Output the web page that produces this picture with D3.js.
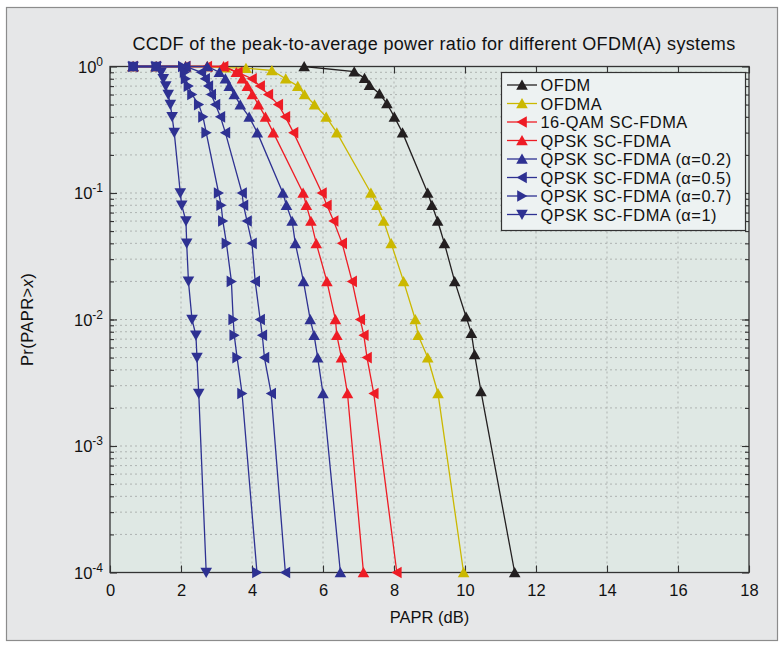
<!DOCTYPE html>
<html>
<head>
<meta charset="utf-8">
<script src="https://cdnjs.cloudflare.com/ajax/libs/d3/7.8.5/d3.min.js"></script>
<style>
body { margin: 0; background: #fff; }
text { font-family: "Liberation Sans", Arial, sans-serif; fill: #111; }
</style>
</head>
<body>
<div id="chart-area"></div>
<script>
/*
*    PAPR CCDF chart
*/

// ---- data ----
var ofdmPapr = [5.47, 6.88, 7.17, 7.31, 7.59, 7.80, 8.01, 8.24, 8.95, 9.07, 9.23, 9.42, 9.71, 10.03, 10.18, 10.27, 10.45, 11.40]
var ofdmProb = [1, 0.91, 0.81, 0.71, 0.61, 0.51, 0.40, 0.30, 0.10, 0.08, 0.06, 0.04, 0.02, 0.0105, 0.0078, 0.0053, 0.0027, 0.0001]

var ofdmaPapr = [0.65, 1.3, 2.13, 2.74, 3.25, 3.83, 4.56, 4.95, 5.29, 5.48, 5.76, 6.09, 6.39, 7.35, 7.52, 7.71, 7.92, 8.27, 8.60, 8.68, 8.95, 9.24, 9.96]
var ofdmaProb = [1, 1, 1, 1, 0.98, 0.97, 0.93, 0.80, 0.70, 0.60, 0.50, 0.40, 0.30, 0.10, 0.08, 0.06, 0.04, 0.02, 0.01, 0.0075, 0.005, 0.0026, 0.0001]

var qam16Papr = [0.65, 1.3, 2.13, 2.74, 3.2, 3.6, 4.0, 4.23, 4.46, 4.74, 4.94, 5.17, 5.97, 6.11, 6.30, 6.54, 6.82, 7.05, 7.15, 7.24, 7.43, 8.08]
var qam16Prob = [1, 1, 1, 1, 1, 0.9, 0.8, 0.7, 0.6, 0.5, 0.4, 0.3, 0.1, 0.08, 0.06, 0.04, 0.02, 0.01, 0.0075, 0.005, 0.0026, 0.0001]

var qpskPapr = [0.65, 1.3, 2.13, 2.74, 3.2, 3.56, 3.73, 3.87, 4.01, 4.18, 4.38, 4.60, 5.44, 5.53, 5.66, 5.81, 6.11, 6.35, 6.39, 6.52, 6.69, 7.14]
var qpskProb = [1, 1, 1, 1, 1, 0.9, 0.8, 0.7, 0.6, 0.5, 0.4, 0.3, 0.1, 0.08, 0.06, 0.04, 0.02, 0.01, 0.0075, 0.005, 0.0026, 0.0001]

var a02Papr = [0.65, 1.3, 2.13, 2.74, 3.08, 3.25, 3.36, 3.50, 3.67, 3.92, 4.15, 4.87, 4.97, 5.13, 5.22, 5.45, 5.64, 5.75, 5.85, 6.00, 6.49]
var a02Prob = [1, 1, 1, 1, 0.9, 0.8, 0.7, 0.6, 0.5, 0.4, 0.3, 0.1, 0.08, 0.06, 0.04, 0.02, 0.01, 0.0075, 0.005, 0.0026, 0.0001]

var a05Papr = [0.65, 1.3, 2.13, 2.57, 2.68, 2.77, 2.85, 2.97, 3.11, 3.25, 3.72, 3.76, 3.86, 4.00, 4.09, 4.23, 4.29, 4.35, 4.54, 4.94]
var a05Prob = [1, 1, 1, 0.9, 0.8, 0.7, 0.6, 0.5, 0.4, 0.3, 0.1, 0.08, 0.06, 0.04, 0.02, 0.01, 0.0075, 0.005, 0.0026, 0.0001]

var a07Papr = [0.65, 1.3, 2.05, 2.10, 2.13, 2.21, 2.31, 2.50, 2.62, 2.71, 3.06, 3.13, 3.18, 3.28, 3.42, 3.47, 3.50, 3.58, 3.72, 4.14]
var a07Prob = [1, 1, 1, 0.9, 0.8, 0.7, 0.6, 0.5, 0.4, 0.3, 0.1, 0.08, 0.06, 0.04, 0.02, 0.01, 0.0075, 0.005, 0.0026, 0.0001]

var a1Papr = [0.65, 1.3, 1.44, 1.50, 1.57, 1.64, 1.70, 1.75, 1.81, 1.98, 2.02, 2.14, 2.16, 2.21, 2.31, 2.42, 2.45, 2.50, 2.71]
var a1Prob = [1, 1, 0.9, 0.8, 0.7, 0.6, 0.5, 0.4, 0.3, 0.1, 0.08, 0.06, 0.04, 0.02, 0.01, 0.0075, 0.005, 0.0026, 0.0001]

var seriesNames = ["OFDM", "OFDMA", "16-QAM SC-FDMA", "QPSK SC-FDMA",
	"QPSK SC-FDMA (\u03b1=0.2)", "QPSK SC-FDMA (\u03b1=0.5)", "QPSK SC-FDMA (\u03b1=0.7)", "QPSK SC-FDMA (\u03b1=1)"]
var xTicks = [0, 2, 4, 6, 8, 10, 12, 14, 16, 18]
var yExponents = [0, -1, -2, -3, -4]

// ---- layout ----
var W = 784, H = 648
var margin = {top: 66.5, left: 110}
var width = 639
var height = 506

var svg = d3.select("#chart-area").append("svg")
.attr("width", W)
.attr("height", H)

svg.append("rect")
.attr("x", 6.5).attr("y", 7.5)
.attr("width", 771).attr("height", 633)
.attr("fill", "#e6e7e8")
.attr("stroke", "#8c8c8c")
.attr("stroke-width", 1.2)

var g = svg.append("g")
.attr("transform", "translate(" + margin.left + ", " + margin.top + ")")

var x = d3.scaleLinear()
.domain([0, 18])
.range([0, width])

var y = d3.scaleLog()
.domain([1e-4, 1])
.range([height, 0])

g.append("rect")
.attr("width", width).attr("height", height)
.attr("fill", "#dfe8e4")

// grid
var minorY = []
for (var e = -4; e < 0; e++) {
	for (var m = 1; m < 10; m++) {
		if (!(m == 1 && e == -4)) minorY.push(m * Math.pow(10, e))
	}
}

g.append("g").selectAll("line")
.data(xTicks.slice(1, -1))
.enter().append("line")
.attr("x1", d => x(d)).attr("x2", d => x(d))
.attr("y1", 0).attr("y2", height)
.attr("stroke", "#aeb3b1")
.attr("stroke-dasharray", "2,3")

g.append("g").selectAll("line")
.data(minorY)
.enter().append("line")
.attr("x1", 0).attr("x2", width)
.attr("y1", d => y(d)).attr("y2", d => y(d))
.attr("stroke", "#aeb3b1")
.attr("stroke-dasharray", "2,3")

// axes (ticks pointing inward, MATLAB style)
var xAxisGroup = g.append("g")
.attr("class", "x axis")
.attr("transform", "translate(0, " + height + ")")
.call(d3.axisBottom(x).tickValues(xTicks).tickSize(-7).tickPadding(12).tickFormat(d3.format("d")))

var xTopGroup = g.append("g")
.call(d3.axisTop(x).tickValues(xTicks).tickSize(-7).tickFormat(""))

var yAxisGroup = g.append("g")
.call(d3.axisLeft(y).tickValues(yExponents.map(d => Math.pow(10, d))).tickSize(-7).tickFormat(""))

g.append("g")
.call(d3.axisLeft(y).tickValues(minorY).tickSize(-4).tickFormat(""))

g.append("g")
.attr("transform", "translate(" + width + ",0)")
.call(d3.axisRight(y).tickValues(yExponents.map(d => Math.pow(10, d))).tickSize(-7).tickFormat(""))

g.append("g")
.attr("transform", "translate(" + width + ",0)")
.call(d3.axisRight(y).tickValues(minorY).tickSize(-4).tickFormat(""))

g.selectAll(".domain").remove()
g.selectAll(".tick line").attr("stroke", "#333").attr("stroke-width", 1.1)
xAxisGroup.selectAll("text")
.attr("font-size", "16.5px")
.style("font-family", "Liberation Sans, Arial, sans-serif")
.attr("fill", "#111")

// y tick labels 10^n
var yLabels = g.append("g")
yExponents.forEach(function(ex) {
	var t = yLabels.append("text")
	.attr("x", -7)
	.attr("y", y(Math.pow(10, ex)) + 6)
	.attr("text-anchor", "end")
	.attr("font-size", "16.5px")
	t.append("tspan").text("10")
	t.append("tspan").attr("dy", -7).attr("font-size", "12px").text(ex == 0 ? "0" : "-" + (-ex))
})

g.append("rect")
.attr("width", width).attr("height", height)
.attr("fill", "none")
.attr("stroke", "#333")
.attr("stroke-width", 1.3)

// ---- curves ----
var series = [
	{papr: ofdmPapr, prob: ofdmProb, color: "#231f20", marker: "up"},
	{papr: ofdmaPapr, prob: ofdmaProb, color: "#cbb800", marker: "up"},
	{papr: qam16Papr, prob: qam16Prob, color: "#ee1c25", marker: "left"},
	{papr: qpskPapr, prob: qpskProb, color: "#ee1c25", marker: "up"},
	{papr: a02Papr, prob: a02Prob, color: "#2e3192", marker: "up"},
	{papr: a05Papr, prob: a05Prob, color: "#2e3192", marker: "left"},
	{papr: a07Papr, prob: a07Prob, color: "#2e3192", marker: "right"},
	{papr: a1Papr, prob: a1Prob, color: "#2e3192", marker: "down"}
]

var rot = {up: 0, right: 90, down: 180, left: 270}
var tri = "M0,-5.4L5.8,4.8L-5.8,4.8Z"

var line = d3.line()
.x(d => x(d[0]))
.y(d => y(d[1]))

series.forEach(function(s) {
	var pts = s.papr.map((p, i) => [p, s.prob[i]])
	g.append("path")
	.datum(pts)
	.attr("d", line)
	.attr("fill", "none")
	.attr("stroke", s.color)
	.attr("stroke-width", 1.3)

	g.append("g").selectAll("path")
	.data(pts)
	.enter().append("path")
	.attr("d", tri)
	.attr("transform", d => "translate(" + x(d[0]) + "," + y(d[1]) + ") rotate(" + rot[s.marker] + ")")
	.attr("fill", s.color)
})

// ---- legend ----
var legend = svg.append("g")
.attr("transform", "translate(501.5, 72.5)")

legend.append("rect")
.attr("width", 244).attr("height", 158)
.attr("fill", "#edf2f2")
.attr("stroke", "#333")
.attr("stroke-width", 1.2)

series.forEach(function(s, i) {
	var row = legend.append("g")
	.attr("transform", "translate(0, " + (12.5 + i * 18.5) + ")")
	row.append("line")
	.attr("x1", 5.5).attr("x2", 35.5)
	.attr("stroke", s.color).attr("stroke-width", 1.3)
	row.append("path")
	.attr("d", tri)
	.attr("transform", "translate(20.5,0) rotate(" + rot[s.marker] + ")")
	.attr("fill", s.color)
	row.append("text")
	.attr("x", 39)
	.attr("y", 6)
	.attr("font-size", "16.4px")
	.attr("letter-spacing", "0.5px")
	.text(seriesNames[i])
})

// ---- labels ----
svg.append("text")
.attr("x", 434)
.attr("y", 50)
.attr("text-anchor", "middle")
.attr("font-size", "18px")
.attr("letter-spacing", "0.35px")
.text("CCDF of the peak-to-average power ratio for different OFDM(A) systems")

svg.append("text")
.attr("x", margin.left + width / 2)
.attr("y", 623)
.attr("text-anchor", "middle")
.attr("font-size", "16.5px")
.text("PAPR (dB)")

var yLab = svg.append("text")
.attr("transform", "translate(33," + (margin.top + height / 2) + ") rotate(-90)")
.attr("text-anchor", "middle")
.attr("font-size", "16.5px")
.attr("letter-spacing", "0.4px")
yLab.append("tspan").text("Pr(PAPR>")
yLab.append("tspan").attr("font-style", "italic").text("x")
yLab.append("tspan").text(")")
</script>
</body>
</html>
